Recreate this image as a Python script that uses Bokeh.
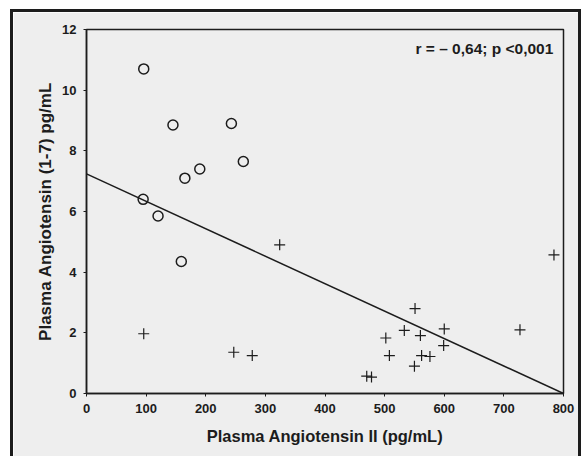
from bokeh.plotting import figure
from bokeh.models import ColumnDataSource, Label, FixedTicker
from bokeh.embed import file_html
from bokeh.resources import INLINE

# Data
circle_x = [96, 145, 243, 263, 190, 165, 95, 120, 159]
circle_y = [10.7, 8.85, 8.9, 7.65, 7.4, 7.1, 6.4, 5.85, 4.35]

cross_x = [96, 247, 278, 324, 784, 551, 533, 502, 560, 600, 599, 727, 508, 562, 576, 550, 470, 478]
cross_y = [1.97, 1.36, 1.25, 4.9, 4.57, 2.8, 2.08, 1.83, 1.91, 2.13, 1.58, 2.1, 1.25, 1.25, 1.22, 0.9, 0.57, 0.54]

fit_intercept = 7.24
fit_slope = -0.00905
fit_x = [0, 800]

x_ticks = [0, 100, 200, 300, 400, 500, 600, 700, 800]
y_ticks = [0, 2, 4, 6, 8, 10, 12]

annotation = "r = \u2013 0,64; p <0,001"
x_label = "Plasma Angiotensin II (pg/mL)"
y_label = "Plasma Angiotensin (1-7) pg/mL"

BG = "#eeeeee"
INK = "#1c1c1c"
FONT = "Liberation Sans"

p = figure(width=571, height=447, x_range=(0, 800), y_range=(0, 12),
           output_backend="svg", toolbar_location=None,
           min_border_left=73, min_border_top=17, min_border_right=21, min_border_bottom=66)
p.styles = {"border-left": "3px solid #1c1c1c", "border-top": "3px solid #1c1c1c",
            "border-right": "3px solid #1c1c1c", "margin-left": "10px", "margin-top": "9px"}
p.background_fill_color = BG
p.border_fill_color = BG
p.outline_line_color = INK
p.outline_line_width = 1.5
p.grid.visible = False

for ax in (p.xaxis[0], p.yaxis[0]):
    ax.axis_line_color = INK
    ax.axis_line_width = 1.5
    ax.major_tick_line_color = INK
    ax.major_tick_in = 0
    ax.major_tick_out = 3
    ax.minor_tick_line_color = None
    ax.major_label_text_font = FONT
    ax.major_label_text_font_style = "bold"
    ax.major_label_text_font_size = "13px"
    ax.major_label_text_color = INK
    ax.axis_label_text_font = FONT
    ax.axis_label_text_font_style = "bold"
    ax.axis_label_text_color = INK
    ax.major_label_standoff = 7

p.xaxis.axis_label_text_font_size = "16.5px"
p.yaxis.axis_label_text_font_size = "17px"
p.xaxis.ticker = FixedTicker(ticks=x_ticks)
p.yaxis.ticker = FixedTicker(ticks=y_ticks)
p.xaxis.axis_label = x_label
p.yaxis.axis_label = y_label
p.xaxis.axis_label_standoff = 11
p.yaxis.axis_label_standoff = 4

fit_y = [fit_intercept + fit_slope * v for v in fit_x]
p.line(fit_x, fit_y, line_color=INK, line_width=1.5)

csrc = ColumnDataSource(dict(x=circle_x, y=circle_y))
p.scatter("x", "y", source=csrc, marker="circle", size=10, fill_color=None,
          line_color=INK, line_width=1.5)

xsrc = ColumnDataSource(dict(x=cross_x, y=cross_y))
p.scatter("x", "y", source=xsrc, marker="cross", size=11,
          line_color=INK, line_width=1.2)

p.add_layout(Label(x=783, y=11.37, text=annotation, text_align="right",
                   text_baseline="middle", text_font=FONT, text_font_style="bold",
                   text_font_size="15.5px", text_color=INK))

open("out.html", "w").write(file_html(p, INLINE))
